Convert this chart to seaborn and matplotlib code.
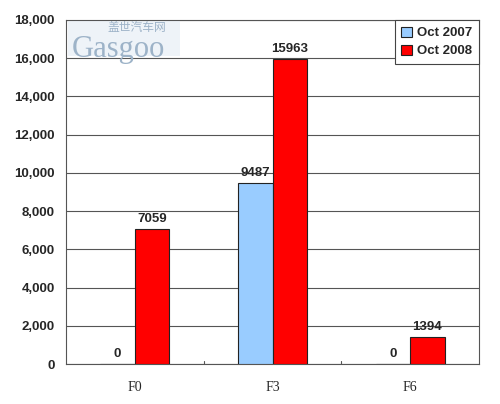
import pandas as pd
import seaborn as sns
import matplotlib.pyplot as plt
from matplotlib.patches import Rectangle

categories = ['F0', 'F3', 'F6']
series = ['Oct 2007', 'Oct 2008']
sales_2007 = [0, 9487, 0]
sales_2008 = [7059, 15963, 1394]
y_ticks = [0, 2000, 4000, 6000, 8000, 10000, 12000, 14000, 16000, 18000]

df = pd.DataFrame({
    'model': categories * 2,
    'period': [series[0]] * 3 + [series[1]] * 3,
    'sales': sales_2007 + sales_2008,
})

sns.set_style('white')
plt.rcParams['font.family'] = ['Liberation Sans', 'DejaVu Sans']

fig = plt.figure(figsize=(5, 4.04), dpi=100)
ax = fig.add_axes([0.132, 0.099, 0.826, 0.8515])

sns.barplot(data=df, x='model', y='sales', hue='period', order=categories,
            hue_order=series, palette=['#99CCFF', '#FF0000'], width=0.5,
            edgecolor='#222222', linewidth=0.8, saturation=1, ax=ax,
            zorder=3)

for cont in ax.containers:
    ax.bar_label(cont, fmt='%d', padding=3, fontsize=9.5, fontweight='bold')

ax.set_ylim(0, 18000)
ax.set_yticks(y_ticks)
ax.set_yticklabels([f'{v:,}' for v in y_ticks], fontsize=9.5, fontweight='bold')
ax.set_xlim(-0.5, 2.5)
ax.set_xticks([0, 1, 2])
ax.set_xticklabels(categories, family=['Liberation Serif', 'DejaVu Serif'], fontsize=10)
ax.tick_params(axis='x', length=0, pad=12)
ax.tick_params(axis='y', length=0, pad=8)
# small ticks between categories
for xp in [0.5, 1.5]:
    ax.plot([xp, xp], [0, 180], color='#555555', lw=0.8, clip_on=False, zorder=4)

ax.yaxis.grid(True, color='#555555', lw=0.8)
ax.set_axisbelow(True)
for s in ax.spines.values():
    s.set_color('#555555')
    s.set_linewidth(0.8)
ax.set_xlabel('')
ax.set_ylabel('')

# watermark
ax.add_patch(Rectangle((0.005, 0.895), 0.27, 0.102, transform=ax.transAxes,
                       facecolor='#EEF3F8', edgecolor='none', zorder=1))
ax.text(0.015, 0.915, 'Gasgoo', transform=ax.transAxes, fontsize=22,
        family=['Liberation Serif', 'DejaVu Serif'], color='#9DB3C8',
        va='center', zorder=2)
ax.text(0.1, 0.997, '盖世汽车网', transform=ax.transAxes, fontsize=8.5,
        family=['Noto Sans CJK SC', 'DejaVu Sans'], color='#9DB3C8',
        va='top', zorder=2)

leg = ax.legend(loc='upper right', bbox_to_anchor=(1.0, 1.0), borderaxespad=0,
                fancybox=False, edgecolor='#444444', framealpha=1,
                handlelength=0.8, handleheight=0.8, handletextpad=0.4,
                borderpad=0.5, labelspacing=0.4,
                prop={'weight': 'bold', 'size': 9.5})
leg.get_frame().set_linewidth(0.8)
leg.set_zorder(5)

fig.savefig('out.png', dpi=100)
